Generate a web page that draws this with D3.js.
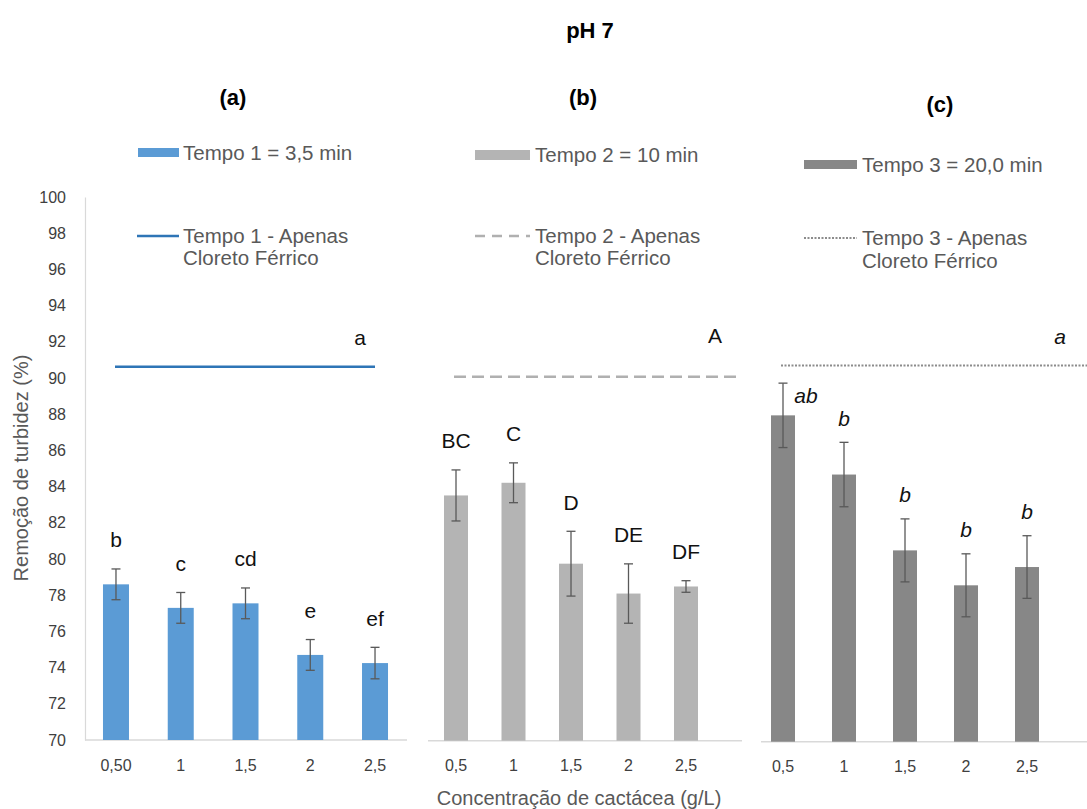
<!DOCTYPE html>
<html><head><meta charset="utf-8">
<script src="https://cdn.jsdelivr.net/npm/d3@7"></script>
<style>
body{margin:0;background:#fff}
svg{display:block}
text{font-family:"Liberation Sans",Arial,sans-serif}
</style>
</head><body>
<svg id="chart" width="1087" height="809"></svg>
<script>
// ---------- data ----------
const categoriesA = ["0,50", "1", "1,5", "2", "2,5"];
const categoriesB = ["0,5", "1", "1,5", "2", "2,5"];
const categoriesC = ["0,5", "1", "1,5", "2", "2,5"];

const valuesA = [78.6, 77.3, 77.55, 74.7, 74.25];
const errorsA = [0.85, 0.85, 0.85, 0.85, 0.87];
const lettersA = ["b", "c", "cd", "e", "ef"];

const valuesB = [83.55, 84.25, 79.78, 78.13, 78.52];
const errorsB = [1.41, 1.1, 1.79, 1.64, 0.32];
const lettersB = ["BC", "C", "D", "DE", "DF"];

const valuesC = [88.03, 84.76, 80.57, 78.64, 79.65];
const errorsC = [1.78, 1.78, 1.74, 1.74, 1.73];
const lettersC = ["ab", "b", "b", "b", "b"];

const referenceValues = [90.62, 90.11, 90.79];
const referenceLetters = ["a", "A", "a"];

const panelTitles = ["(a)", "(b)", "(c)"];
const barLegendLabels = ["Tempo 1 = 3,5 min", "Tempo 2 = 10 min", "Tempo 3 = 20,0 min"];
const lineLegendLabels = [
  ["Tempo 1 - Apenas", "Cloreto Férrico"],
  ["Tempo 2 - Apenas", "Cloreto Férrico"],
  ["Tempo 3 - Apenas", "Cloreto Férrico"]
];
const yTickValues = [70, 72, 74, 76, 78, 80, 82, 84, 86, 88, 90, 92, 94, 96, 98, 100];
const mainTitle = "pH 7";
const yAxisTitle = "Remoção de turbidez (%)";
const xAxisTitle = "Concentração de cactácea (g/L)";

// ---------- layout ----------
const svg = d3.select("#chart");
svg.append("rect").attr("width", 1087).attr("height", 809).attr("fill", "#fff");

const panels = [
  { cats: categoriesA, vals: valuesA, errs: errorsA, letters: lettersA, italic: false,
    xr: [83.6, 407.4], axisX: [85, 407], y0: 740, y100: 197, barW: 26,
    fill: "#5b9bd5", lineColor: "#2e75b6", lineDash: null, legDash: null, lineW: 2.5, lineX: [115, 375],
    refLabel: [360, 338], title: [233, 97],
    legRect: [138, 148, 41, 9], legText: [183, 153], legLine: [137, 179, 236], legLineText: [183, 236, 258], legSize: 20.5,
    showY: true },
  { cats: categoriesB, vals: valuesB, errs: errorsB, letters: lettersB, italic: false,
    xr: [427.25, 714.75], axisX: [428, 742], y0: 740.7, y100: 197.7, barW: 24,
    fill: "#b4b4b4", lineColor: "#b0b0b0", lineDash: "12,6", legDash: "10,7", lineW: 2.5, lineX: [454, 736],
    refLabel: [715, 336], title: [583, 97],
    legRect: [475, 150, 55, 10], legText: [535, 155], legLine: [475, 530, 236], legLineText: [535, 236, 258], legSize: 20.5,
    showY: false },
  { cats: categoriesC, vals: valuesC, errs: errorsC, letters: lettersC, italic: true,
    xr: [752.5, 1057.5], axisX: [761, 1087], y0: 741.7, y100: 198.7, barW: 24,
    fill: "#878787", lineColor: "#8c8c8c", lineDash: "2,1.5", legDash: "2,1.5", lineW: 2, lineX: [781, 1087],
    refLabel: [1060, 337], title: [940, 104],
    legRect: [804, 160, 53, 9], legText: [862, 164.5], legLine: [804, 857, 238], legLineText: [862, 238, 261], legSize: 20.5,
    showY: false, sideLabelFirst: true }
];

const textGrey = "#595959";

panels.forEach((p, pi) => {
  const x = d3.scalePoint().domain(p.cats).range(p.xr).padding(0.5);
  const y = d3.scaleLinear().domain([70, 100]).range([p.y0, p.y100]);
  const g = svg.append("g");

  // y axis (only panel a)
  if (p.showY) {
    const ya = d3.axisLeft(y).tickValues(yTickValues).tickSize(0).tickPadding(19);
    const yg = g.append("g").attr("transform", `translate(${p.axisX[0]},0)`).call(ya);
    yg.select(".domain").attr("stroke", "#d9d9d9").attr("stroke-width", 1.2);
    yg.selectAll("text").attr("font-size", 16).attr("fill", "#404040")
      .attr("font-family", '"Liberation Sans",Arial,sans-serif');
  }

  // x axis baseline
  g.append("line").attr("x1", p.axisX[0]).attr("x2", p.axisX[1])
    .attr("y1", y(70)).attr("y2", y(70)).attr("stroke", "#d9d9d9").attr("stroke-width", 1.5);

  // x tick labels
  g.selectAll(".xt").data(p.cats).join("text")
    .attr("x", d => x(d)).attr("y", y(70) + 25).attr("dy", "0.35em")
    .attr("text-anchor", "middle").attr("font-size", 16).attr("fill", "#404040").text(d => d);

  // bars
  g.selectAll(".bar").data(p.vals).join("rect")
    .attr("x", (d, i) => x(p.cats[i]) - p.barW / 2).attr("width", p.barW)
    .attr("y", d => y(d)).attr("height", d => y(70) - y(d)).attr("fill", p.fill);

  // error bars
  const eb = g.selectAll(".eb").data(p.vals).join("g");
  eb.append("line").attr("x1", (d, i) => x(p.cats[i])).attr("x2", (d, i) => x(p.cats[i]))
    .attr("y1", (d, i) => y(d + p.errs[i])).attr("y2", (d, i) => y(d - p.errs[i]));
  eb.append("line").attr("x1", (d, i) => x(p.cats[i]) - 4.5).attr("x2", (d, i) => x(p.cats[i]) + 4.5)
    .attr("y1", (d, i) => y(d + p.errs[i])).attr("y2", (d, i) => y(d + p.errs[i]));
  eb.append("line").attr("x1", (d, i) => x(p.cats[i]) - 4.5).attr("x2", (d, i) => x(p.cats[i]) + 4.5)
    .attr("y1", (d, i) => y(d - p.errs[i])).attr("y2", (d, i) => y(d - p.errs[i]));
  eb.selectAll("line").attr("stroke", "#595959").attr("stroke-width", 1.3);

  // letters
  g.selectAll(".lt").data(p.letters).join("text")
    .attr("x", (d, i) => x(p.cats[i]) + ((p.sideLabelFirst && i === 0) ? 23 : 0))
    .attr("y", (d, i) => y(p.vals[i] + p.errs[i]) - ((p.sideLabelFirst && i === 0) ? -13 : (p.italic ? 24 : 29)))
    .attr("dy", "0.35em").attr("text-anchor", "middle").attr("font-size", 21)
    .attr("font-style", p.italic ? "italic" : "normal").attr("fill", "#111").text(d => d);

  // reference line
  const rl = g.append("line").attr("x1", p.lineX[0]).attr("x2", p.lineX[1])
    .attr("y1", y(referenceValues[pi])).attr("y2", y(referenceValues[pi]))
    .attr("stroke", p.lineColor).attr("stroke-width", p.lineW);
  if (p.lineDash) rl.attr("stroke-dasharray", p.lineDash);

  g.append("text").attr("x", p.refLabel[0]).attr("y", p.refLabel[1]).attr("dy", "0.35em")
    .attr("text-anchor", "middle").attr("font-size", 21)
    .attr("font-style", p.italic ? "italic" : "normal").attr("fill", "#111").text(referenceLetters[pi]);

  // panel title
  g.append("text").attr("x", p.title[0]).attr("y", p.title[1]).attr("dy", "0.35em")
    .attr("text-anchor", "middle").attr("font-size", 22).attr("font-weight", "bold")
    .attr("fill", "#000").text(panelTitles[pi]);

  // legend: bar
  g.append("rect").attr("x", p.legRect[0]).attr("y", p.legRect[1])
    .attr("width", p.legRect[2]).attr("height", p.legRect[3]).attr("fill", p.fill);
  g.append("text").attr("x", p.legText[0]).attr("y", p.legText[1]).attr("dy", "0.35em")
    .attr("font-size", p.legSize).attr("fill", textGrey).text(barLegendLabels[pi]);

  // legend: line
  const ll = g.append("line").attr("x1", p.legLine[0]).attr("x2", p.legLine[1])
    .attr("y1", p.legLine[2]).attr("y2", p.legLine[2])
    .attr("stroke", p.lineColor).attr("stroke-width", p.lineW);
  if (p.legDash) ll.attr("stroke-dasharray", p.legDash);
  lineLegendLabels[pi].forEach((t, k) => {
    g.append("text").attr("x", p.legLineText[0]).attr("y", p.legLineText[1 + k]).attr("dy", "0.35em")
      .attr("font-size", p.legSize).attr("fill", textGrey).text(t);
  });
});

// titles
svg.append("text").attr("x", 590).attr("y", 30).attr("dy", "0.35em").attr("text-anchor", "middle")
  .attr("font-size", 22).attr("font-weight", "bold").attr("fill", "#000").text(mainTitle);

svg.append("text").attr("transform", "translate(21,468) rotate(-90)").attr("dy", "0.35em")
  .attr("text-anchor", "middle").attr("font-size", 20).attr("fill", textGrey).text(yAxisTitle);

svg.append("text").attr("x", 579).attr("y", 798).attr("dy", "0.35em").attr("text-anchor", "middle")
  .attr("font-size", 20).attr("fill", textGrey).text(xAxisTitle);
</script>
</body></html>
